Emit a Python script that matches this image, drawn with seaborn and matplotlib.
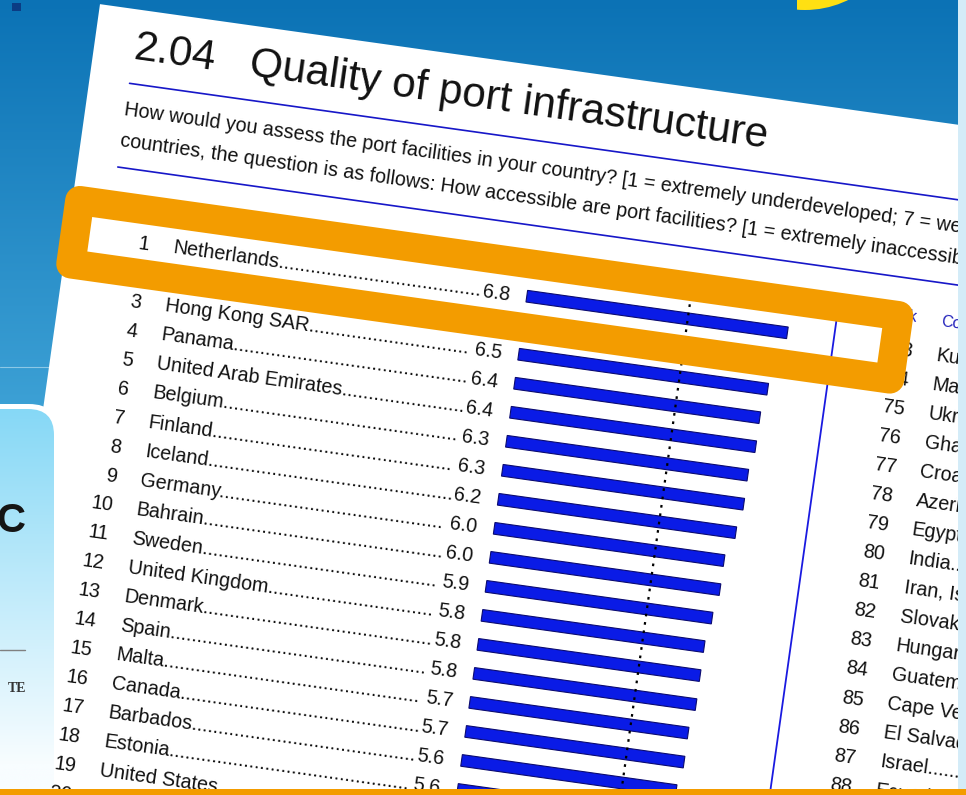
import numpy as np
import pandas as pd
import seaborn as sns
import matplotlib.pyplot as plt
from matplotlib.transforms import Affine2D
from matplotlib.patches import Rectangle, FancyBboxPatch, Circle
from matplotlib.font_manager import FontProperties

# Left column of the ranking table
ranks = list(range(1, 21))
countries = ["Netherlands", "Singapore", "Hong Kong SAR", "Panama", "United Arab Emirates",
             "Belgium", "Finland", "Iceland", "Germany", "Bahrain", "Sweden",
             "United Kingdom", "Denmark", "Spain", "Malta", "Canada", "Barbados",
             "Estonia", "United States", "Korea, Rep."]
scores = [6.8, 6.8, 6.5, 6.4, 6.4, 6.3, 6.3, 6.2, 6.0, 6.0, 5.9, 5.8, 5.8, 5.8,
          5.7, 5.7, 5.6, 5.6, 5.6, 5.5]
mean_score = 4.2

# Right column (mostly cut off by the screen edge)
ranks_right = list(range(73, 89))
countries_right = ["Kuwait", "Malawi", "Ukraine", "Ghana", "Croatia", "Azerbaijan", "Egypt",
                   "India", "Iran, Islamic Rep.", "Slovak Republic", "Hungary", "Guatemala",
                   "Cape Verde", "El Salvador", "Israel", "Ecuador"]

title_num = "2.04"
title = "Quality of port infrastructure"
question = ["How would you assess the port facilities in your country? [1 = extremely "
            "underdeveloped; 7 = well developed and efficient by international standards] For landlocked",
            "countries, the question is as follows: How accessible are port facilities? "
            "[1 = extremely inaccessible; 7 = extremely accessible]"]

sns.set_style("white")
plt.rcParams['font.family'] = ['Liberation Sans', 'DejaVu Sans']

W, H = 966, 795
ANGLE = 8
ROW0, PITCH = 292.5, 29.3
U_RANK, U_NAME, U_VAL, U_BAR = 145, 169, 509, 526
PX_PER = 38.7
U_DIV, COL2 = 836, 771
LIST_FS = 14.2
INK = '#111111'
RULE = '#1717c8'

fig = plt.figure(figsize=(W / 100, H / 100), dpi=100)
ax = fig.add_axes([0, 0, 1, 1])
ax.set_xlim(0, W)
ax.set_ylim(H, 0)
ax.axis('off')

# page is tilted: rotate around a pivot in display space
R = Affine2D().rotate_deg_around(500, H - 300, -ANGLE)
T = ax.transData + R

# blue background
g = np.clip(np.linspace(0, 1, H) * H / 420, 0, 1)[:, None, None]
top_c = np.array([11, 114, 181]) / 255
bot_c = np.array([62, 162, 214]) / 255
bg = np.repeat(top_c + (bot_c - top_c) * g, 2, axis=1)
ax.imshow(bg, extent=[0, W, H, 0], aspect='auto', zorder=0)
ax.plot([0, 60], [366.5, 366.5], color='#8cc8e6', lw=0.8, zorder=1)
ax.add_patch(Rectangle((12, 3), 9, 8, fc='#0b3c84', ec='none', zorder=1))
sun = Circle((805, -88), 98, fc='#ffe012', ec='none', zorder=1)
ax.add_patch(sun)
sun.set_clip_path(Rectangle((797, -200), 300, 300, transform=ax.transData))

# white page
ax.add_patch(Rectangle((62.7, 62.7), 1500, 1300, fc='white', ec='none', transform=T, zorder=2))

# light sidebar panel on the left
panel_out = FancyBboxPatch((-80, 404), 139, 420, boxstyle="round,pad=0,rounding_size=30",
                           fc='white', ec='none', zorder=3)
ax.add_patch(panel_out)
panel_in = FancyBboxPatch((-80, 409), 134, 410, boxstyle="round,pad=0,rounding_size=26",
                          fc='none', ec='none', zorder=3)
ax.add_patch(panel_in)
pg = np.clip(np.linspace(0, 1, 400) * 1.1, 0, 1)[:, None, None]
c0 = np.array([134, 216, 246]) / 255
c1 = np.array([248, 253, 255]) / 255
cyan = np.repeat(c0 + (c1 - c0) * pg, 2, axis=1)
im = ax.imshow(cyan, extent=[-80, 60, 800, 409], aspect='auto', zorder=3.1)
im.set_clip_path(panel_in)
ax.text(-4, 532, "C", fontsize=29, fontweight='bold', color='#151515', va='baseline',
        ha='left', zorder=3.2)
ax.plot([0, 25], [650, 650], color='#808080', lw=1, zorder=3.2)
ax.text(26, 692, "TE", fontsize=10, fontweight='bold', family='Liberation Serif',
        color='#333333', ha='right', va='baseline', zorder=3.2)


def put(u, v, s, **kw):
    kw.setdefault('fontsize', LIST_FS)
    kw.setdefault('color', INK)
    kw.setdefault('va', 'baseline')
    return ax.text(u, v, s, transform=T, rotation=-ANGLE, rotation_mode='anchor', zorder=4, **kw)


# title block
put(103, 112.3, title_num, fontsize=30.5)
put(219, 112.3, title, fontsize=30.5)
ax.plot([103, 1500], [137, 137], color=RULE, lw=1.2, transform=T, zorder=3.5)
put(102, 169.5, question[0], fontsize=14.2)
put(102, 200, question[1], fontsize=14.2)
ax.plot([103, 1500], [221.5, 221.5], color=RULE, lw=1.2, transform=T, zorder=3.5)

# column divider
ax.plot([U_DIV, U_DIV], [262, 1300], color='#1a1ae0', lw=1.3, transform=T, zorder=3.5)

# text rows with dot leaders
rend = fig.canvas.get_renderer()
fp = FontProperties(family='Liberation Sans', size=LIST_FS)


def text_w(s):
    return rend.get_text_width_height_descent(s, fp, ismath=False)[0]


dot_w = text_w('..') - text_w('.')


def leader(name, u0, u1):
    n = int((u1 - u0 - text_w(name)) / dot_w)
    return name + '.' * max(n, 0)


for i, (rk, name, sc) in enumerate(zip(ranks, countries, scores)):
    v = ROW0 + i * PITCH + 7
    val = f"{sc:.1f}"
    put(U_RANK, v, str(rk), ha='right')
    put(U_NAME, v, leader(name, U_NAME, U_VAL - text_w(val) - 1))
    put(U_VAL, v, val, ha='right')

put(U_RANK + COL2, 264, "Rank", ha='right', fontsize=11.5, color='#2222bb')
put(U_NAME + COL2, 264, "Country/Economy", fontsize=11.5, color='#2222bb')
for i, (rk, name) in enumerate(zip(ranks_right, countries_right)):
    v = ROW0 + i * PITCH + 7
    put(U_RANK + COL2, v, str(rk), ha='right')
    put(U_NAME + COL2, v, leader(name, U_NAME + COL2, U_VAL + COL2 - 30))

# bars drawn by seaborn on an unrotated axes, then tilted with the page
n = len(countries)
top_v = ROW0 - PITCH / 2
bax = fig.add_axes([U_BAR / W, 1 - (top_v + n * PITCH) / H, 7 * PX_PER / W, n * PITCH / H])
df = pd.DataFrame({'country': countries, 'score': scores})
sns.barplot(data=df, x='score', y='country', orient='y', ax=bax, color='#0a1be6',
            edgecolor='#0b0b70', linewidth=0.8, width=0.4, saturation=1)
bax.set_xlim(0, 7)
bax.set_ylim(n - 0.5, -0.5)
bax.axis('off')
for p in bax.patches:
    p.set_transform(bax.transData + R)
    p.set_clip_on(False)
mline, = bax.plot([mean_score, mean_score], [-0.5, n + 6], color='black', lw=1.6,
                  linestyle=(0, (1.2, 2.6)))
mline.set_transform(bax.transData + R)
mline.set_clip_on(False)

# overlay: highlight frame and screen edges
ov = fig.add_axes([0, 0, 1, 1], zorder=5)
ov.set_xlim(0, W)
ov.set_ylim(H, 0)
ov.axis('off')

frame = Rectangle((70, 260), 827, 64, fc='none', ec='#f39c00', lw=21,
                  joinstyle='round', transform=ov.transData + R)
ov.add_patch(frame)
frame.set_clip_on(False)

ov.add_patch(Rectangle((958, -5), 12, H + 10, fc='#d4ecf8', ec='none'))
ov.add_patch(Rectangle((-5, 788.5), W + 10, 12, fc='#f39c00', ec='none'))
ax.set_xlim(0, W)
ax.set_ylim(H, 0)

fig.savefig("out.png", dpi=100)
